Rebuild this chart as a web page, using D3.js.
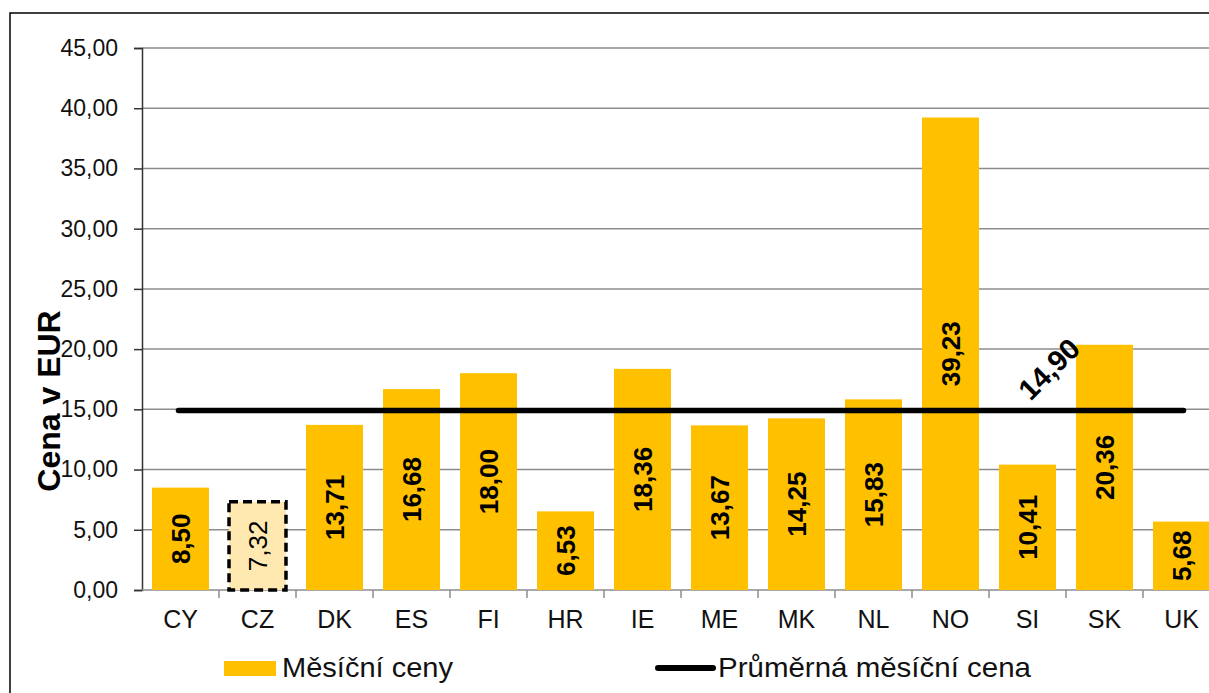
<!DOCTYPE html>
<html><head><meta charset="utf-8">
<script src="https://cdn.jsdelivr.net/npm/d3@7"></script>
<style>body{margin:0;background:#fff}svg{display:block}</style>
</head><body><svg id="c" width="1209" height="693"></svg>
<script>
const categories = ["CY","CZ","DK","ES","FI","HR","IE","ME","MK","NL","NO","SI","SK","UK"];
const values = [8.50,7.32,13.71,16.68,18.00,6.53,18.36,13.67,14.25,15.83,39.23,10.41,20.36,5.68];
const average = 14.90;
const yTicks = [0,5,10,15,20,25,30,35,40,45];
const highlight = "CZ";
const seriesName = "Měsíční ceny";
const lineName = "Průměrná měsíční cena";
const yTitle = "Cena v EUR";

(function(){
const svg = d3.select("#c");
const fmt = v => d3.format(".2f")(v).replace(".", ",");
const FONT = "Liberation Sans, Arial, sans-serif";
const pLeft = 142, pTop = 48, pBottom = 590, pRight = 1220;

const x = d3.scaleBand().domain(categories).range([pLeft, pRight]).paddingInner(0.26).paddingOuter(0.13);
const xb = d3.scaleBand().domain(categories).range([pLeft, pRight]);
const y = d3.scaleLinear().domain([0,45]).range([pBottom, pTop]);

svg.append("rect").attr("x",10).attr("y",13).attr("width",1240).attr("height",720)
  .attr("fill","none").attr("stroke","#000").attr("stroke-width",1.5);

svg.append("g").selectAll("line").data(yTicks.filter(d=>d>0)).join("line")
  .attr("x1",pLeft).attr("x2",1209).attr("y1",d=>y(d)).attr("y2",d=>y(d))
  .attr("stroke","#8c8c8c").attr("stroke-width",1.5);

const ya = svg.append("g").attr("transform",`translate(${pLeft},0)`)
  .call(d3.axisLeft(y).tickValues(yTicks).tickSize(8).tickPadding(16).tickFormat(fmt));
ya.select(".domain").attr("stroke","#333").attr("stroke-width",1.5);
ya.selectAll(".tick line").attr("stroke","#333").attr("stroke-width",1.5);
ya.selectAll("text").attr("font-family",FONT).attr("font-size",23).attr("fill","#111");

const xa = svg.append("g").attr("transform",`translate(0,${pBottom})`);
xa.append("line").attr("x1",pLeft).attr("x2",1209).attr("stroke","#8c8c8c").attr("stroke-width",1.5);
xa.selectAll("line.t").data(categories).join("line").attr("class","t")
  .attr("x1",d=>xb(d)+xb.bandwidth()).attr("x2",d=>xb(d)+xb.bandwidth()).attr("y1",0).attr("y2",8)
  .attr("stroke","#8c8c8c").attr("stroke-width",1.5);
xa.selectAll("text").data(categories).join("text")
  .attr("x",d=>xb(d)+xb.bandwidth()/2).attr("y",38).attr("text-anchor","middle")
  .attr("font-family",FONT).attr("font-size",25).attr("fill","#111").text(d=>d);

const data = categories.map((c,i)=>({c, v: values[i]}));

svg.append("g").selectAll("rect").data(data).join("rect")
  .attr("x",d=>x(d.c)).attr("width",x.bandwidth())
  .attr("y",d=>y(d.v)).attr("height",d=>y(0)-y(d.v))
  .attr("fill",d=>d.c===highlight?"#FFE9B0":"#FFC000")
  .attr("stroke",d=>d.c===highlight?"#000":"none")
  .attr("stroke-width",3.5).attr("stroke-dasharray","9,5");

svg.append("g").selectAll("text").data(data).join("text")
  .attr("transform",d=>`translate(${x(d.c)+x.bandwidth()/2},${(y(d.v)+y(0))/2}) rotate(-90)`)
  .attr("text-anchor","middle").attr("dy","0.35em")
  .attr("font-family",FONT).attr("font-size",26)
  .attr("font-weight",d=>d.c===highlight?"normal":"bold").attr("fill","#000")
  .text(d=>fmt(d.v));

const c0 = categories[0], c1 = categories[categories.length-1];
svg.append("line")
  .attr("x1",xb(c0)+xb.bandwidth()/2-2).attr("x2",xb(c1)+xb.bandwidth()/2+2)
  .attr("y1",y(average)).attr("y2",y(average))
  .attr("stroke","#000").attr("stroke-width",5.5).attr("stroke-linecap","round");

svg.append("text")
  .attr("transform",`translate(1049,369) rotate(-45)`)
  .attr("text-anchor","middle").attr("dy","0.35em")
  .attr("font-family",FONT).attr("font-size",29).attr("font-weight","bold")
  .text(fmt(average));

svg.append("text").attr("transform","translate(49,401) rotate(-90)")
  .attr("text-anchor","middle").attr("dy","0.35em")
  .attr("font-family",FONT).attr("font-size",32).attr("font-weight","bold")
  .text(yTitle);

const lg = svg.append("g").attr("font-family",FONT).attr("font-size",28).attr("fill","#111");
lg.append("rect").attr("x",224).attr("y",661).attr("width",52).attr("height",15).attr("fill","#FFC000");
lg.append("text").attr("x",282).attr("y",677).attr("textLength",171).attr("lengthAdjust","spacingAndGlyphs").text(seriesName);
lg.append("line").attr("x1",658).attr("x2",713).attr("y1",668).attr("y2",668).attr("stroke","#000").attr("stroke-width",6).attr("stroke-linecap","round");
lg.append("text").attr("x",718).attr("y",677).attr("textLength",313).attr("lengthAdjust","spacingAndGlyphs").text(lineName);
})();
</script></body></html>
